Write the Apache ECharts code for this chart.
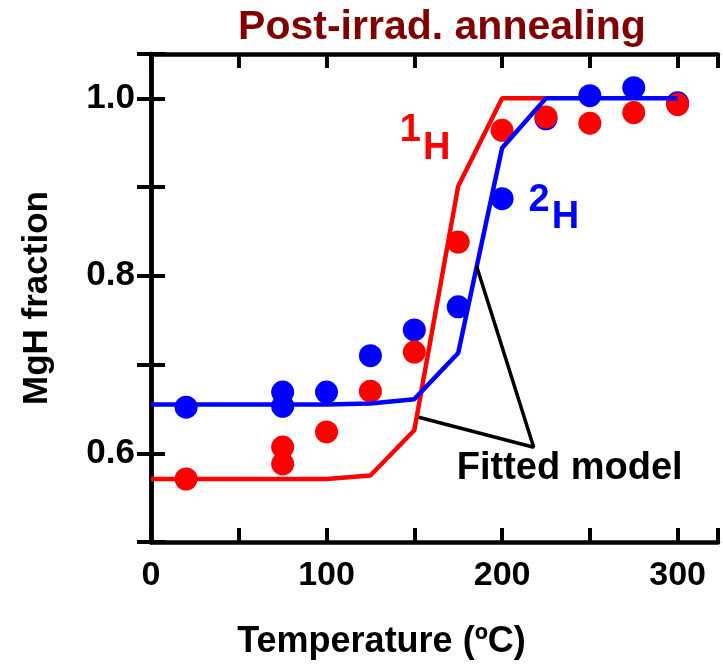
<!DOCTYPE html>
<html>
<head>
<meta charset="utf-8">
<script src="https://cdn.jsdelivr.net/npm/echarts@6/dist/echarts.min.js"></script>
<style>
  html, body { margin: 0; padding: 0; background: #fff; }
  #chart { width: 723px; height: 664px; }
</style>
</head>
<body>
<div id="chart"></div>
<script>
// measured points
const tempX = [20, 75, 75, 100, 125, 150, 175, 200, 225, 250, 275, 300]
const blueY = [0.652, 0.669, 0.653, 0.669, 0.710, 0.739, 0.765, 0.887, 0.977, 1.003, 1.012, 0.995]
const redY = [0.571, 0.607, 0.588, 0.624, 0.670, 0.714, 0.838, 0.964, 0.979, 0.972, 0.984, 0.993]

// fitted model curves
const redFitX = [0, 100, 125, 150, 175, 200, 225]
const redFitY = [0.571, 0.571, 0.575, 0.626, 0.901, 1.0, 1.0]
const blueFitX = [0, 100, 125, 150, 175, 200, 225, 300]
const blueFitY = [0.655, 0.655, 0.656, 0.661, 0.713, 0.944, 1.0, 1.0]

// pointer lines for "Fitted model"
const pointerX = [152.5, 218, 185.5]
const pointerY = [0.6406, 0.6068, 0.8107]

const xTickLabels = [0, 100, 200, 300]
const yTickLabels = [0.6, 0.8, 1.0]

const font = 'Liberation Sans'
let zip = (xs, ys) => xs.map((x, i) => [x, ys[i]])

let axisLine = { lineStyle: { color: '#000', width: 4.5 } }
let axisTick = { inside: true, length: 14, lineStyle: { color: '#000', width: 4 } }

let mychart = echarts.init(document.getElementById('chart'))
let options = {
    animation: false,
    title: {
        text: 'Post-irrad. annealing',
        left: 437,
        textAlign: 'center',
        top: 2,
        textStyle: { color: '#800000', fontFamily: font, fontWeight: 'bold', fontSize: 41 }
    },
    grid: { left: 151, top: 54, right: 5, bottom: 122, outerBoundsMode: 'none' },
    xAxis: [
        {
            type: 'value',
            min: 0,
            max: 323,
            interval: 50,
            position: 'bottom',
            splitLine: { show: false },
            axisLine: axisLine,
            axisTick: axisTick,
            axisLabel: {
                margin: 17,
                color: '#000',
                fontFamily: font,
                fontWeight: 'bold',
                fontSize: 34,
                formatter: v => xTickLabels.includes(v) ? String(v) : ''
            },
            name: 'Temperature (ºC)',
            nameLocation: 'middle',
            nameGap: 82,
            nameTextStyle: {
                color: '#000', fontFamily: font, fontWeight: 'bold', fontSize: 36,
                padding: [0, 106, 0, 0]
            }
        },
        {
            type: 'value',
            min: 0,
            max: 323,
            interval: 50,
            position: 'top',
            splitLine: { show: false },
            axisLine: axisLine,
            axisTick: axisTick,
            axisLabel: { show: false }
        }
    ],
    yAxis: [
        {
            type: 'value',
            min: 0.5,
            max: 1.05,
            interval: 0.1,
            position: 'left',
            splitLine: { show: false },
            axisLine: axisLine,
            axisTick: axisTick,
            axisLabel: {
                margin: 16,
                color: '#000',
                fontFamily: font,
                fontWeight: 'bold',
                fontSize: 35,
                formatter: v => yTickLabels.some(t => Math.abs(t - v) < 1e-6) ? v.toFixed(1) : ''
            },
            name: 'MgH fraction',
            nameLocation: 'middle',
            nameGap: 96,
            nameTextStyle: { color: '#000', fontFamily: font, fontWeight: 'bold', fontSize: 35 }
        },
        {
            type: 'value',
            min: 0.5,
            max: 1.05,
            interval: 0.1,
            position: 'right',
            splitLine: { show: false },
            axisLine: axisLine,
            axisTick: axisTick,
            axisLabel: { show: false }
        }
    ],
    series: [
        {
            name: '2H data',
            type: 'scatter',
            data: zip(tempX, blueY),
            symbolSize: 23,
            itemStyle: { color: '#0000ff', opacity: 1 }
        },
        {
            name: '1H data',
            type: 'scatter',
            data: zip(tempX, redY),
            symbolSize: 23,
            itemStyle: { color: '#ff0000', opacity: 1 }
        },
        {
            name: '1H fit',
            type: 'line',
            data: zip(redFitX, redFitY),
            showSymbol: false,
            lineStyle: { color: '#ff0000', width: 4.5 }
        },
        {
            name: '2H fit',
            type: 'line',
            data: zip(blueFitX, blueFitY),
            showSymbol: false,
            lineStyle: { color: '#0000ff', width: 4.5 }
        },
        {
            name: 'pointer',
            type: 'line',
            data: zip(pointerX, pointerY),
            showSymbol: false,
            lineStyle: { color: '#000', width: 3.5 }
        },
        {
            // text labels placed in data coordinates
            name: 'labels',
            type: 'scatter',
            symbolSize: 0,
            silent: true,
            itemStyle: { opacity: 1 },
            data: [
                { value: [141.7, 0.9765], label: { formatter: '{a|1}{b|H}', color: '#ff0000' } },
                { value: [215.1, 0.897], label: { formatter: '{a|2}{c|H}', color: '#0000ff' } },
                {
                    value: [238.5, 0.583],
                    label: {
                        formatter: 'Fitted model', position: 'inside', align: 'center',
                        verticalAlign: 'middle', color: '#000', fontSize: 38
                    }
                }
            ],
            label: {
                show: true,
                position: [0, 0],
                fontFamily: font,
                fontWeight: 'bold',
                rich: {
                    a: { fontFamily: font, fontWeight: 'bold', fontSize: 38, lineHeight: 40, padding: [0, 2, 18, 0] },
                    b: { fontFamily: font, fontWeight: 'bold', fontSize: 38, lineHeight: 40, padding: [18, 0, 0, 0] },
                    c: { fontFamily: font, fontWeight: 'bold', fontSize: 38, lineHeight: 40, padding: [16, 0, 0, 0] }
                }
            }
        }
    ]
}
mychart.setOption(options)
window.addEventListener('resize', () => {
    mychart?.resize()
})
</script>
</body>
</html>
